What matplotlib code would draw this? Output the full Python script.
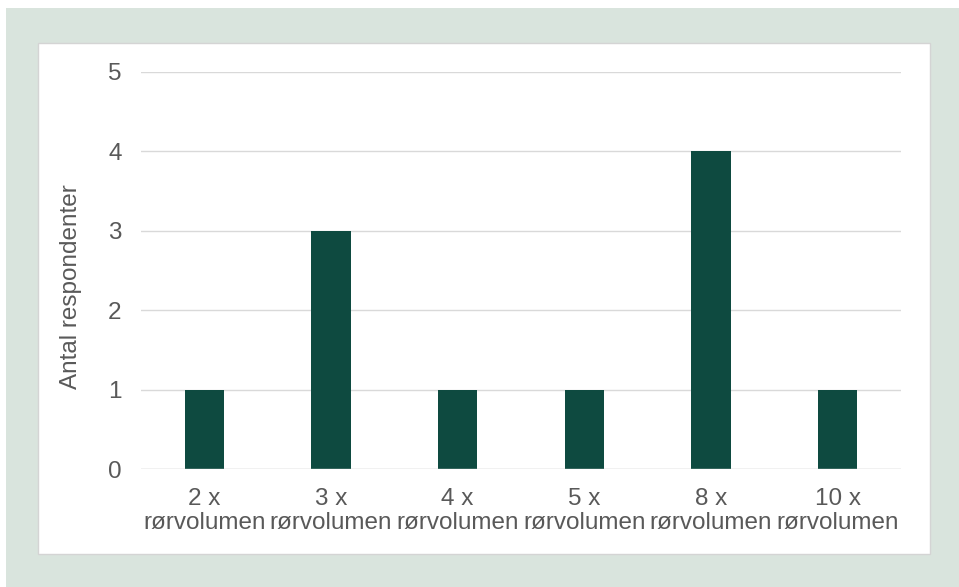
import matplotlib.pyplot as plt
from matplotlib.patches import Rectangle

categories = ['2 x\nrørvolumen', '3 x\nrørvolumen', '4 x\nrørvolumen',
              '5 x\nrørvolumen', '8 x\nrørvolumen', '10 x\nrørvolumen']
counts = [1, 3, 1, 1, 4, 1]

plt.rcParams['font.family'] = ['Liberation Sans', 'DejaVu Sans']

W, H = 959, 587
fig = plt.figure(figsize=(W / 100, H / 100), dpi=100)
fig.patch.set_facecolor('white')

# green-grey outer frame and white inner panel (behind the axes)
fig.patches.append(Rectangle((6 / W, 0), 1 - 6 / W, 1 - 8 / H, transform=fig.transFigure,
                             facecolor='#d9e4dd', edgecolor='none', zorder=-2))
fig.patches.append(Rectangle((38 / W, 1 - 554 / H), (930 - 38) / W, (554 - 43) / H,
                             transform=fig.transFigure, facecolor='white',
                             edgecolor='#d4d4d4', linewidth=1, zorder=-1))

ax = fig.add_axes([141 / W, 1 - 469 / H, (901 - 141) / W, (469 - 72) / H])
ax.set_facecolor('none')

x = range(len(categories))
ax.bar(x, counts, width=0.31, color='#0e4a40', zorder=3)

ax.set_xlim(-0.5, len(categories) - 0.5)
ax.set_ylim(0, 5)
ax.set_yticks(range(6))
ax.set_xticks(list(x))
ax.set_xticklabels(categories, fontsize=17.5, color='#595959', linespacing=1.15)
ax.tick_params(axis='y', labelsize=17.5, labelcolor='#595959', length=0, pad=14)
ax.tick_params(axis='x', length=0, pad=13.5)
ax.grid(axis='y', color='#d9d9d9', linewidth=1, zorder=0)
for s in ax.spines.values():
    s.set_visible(False)
ax.axhline(0, color='#d9d9d9', linewidth=1, zorder=4)

ax.set_ylabel('Antal respondenter', fontsize=17.5, color='#595959')
ax.yaxis.set_label_coords(-0.077, 0.46)

fig.savefig('out.png', dpi=100)
